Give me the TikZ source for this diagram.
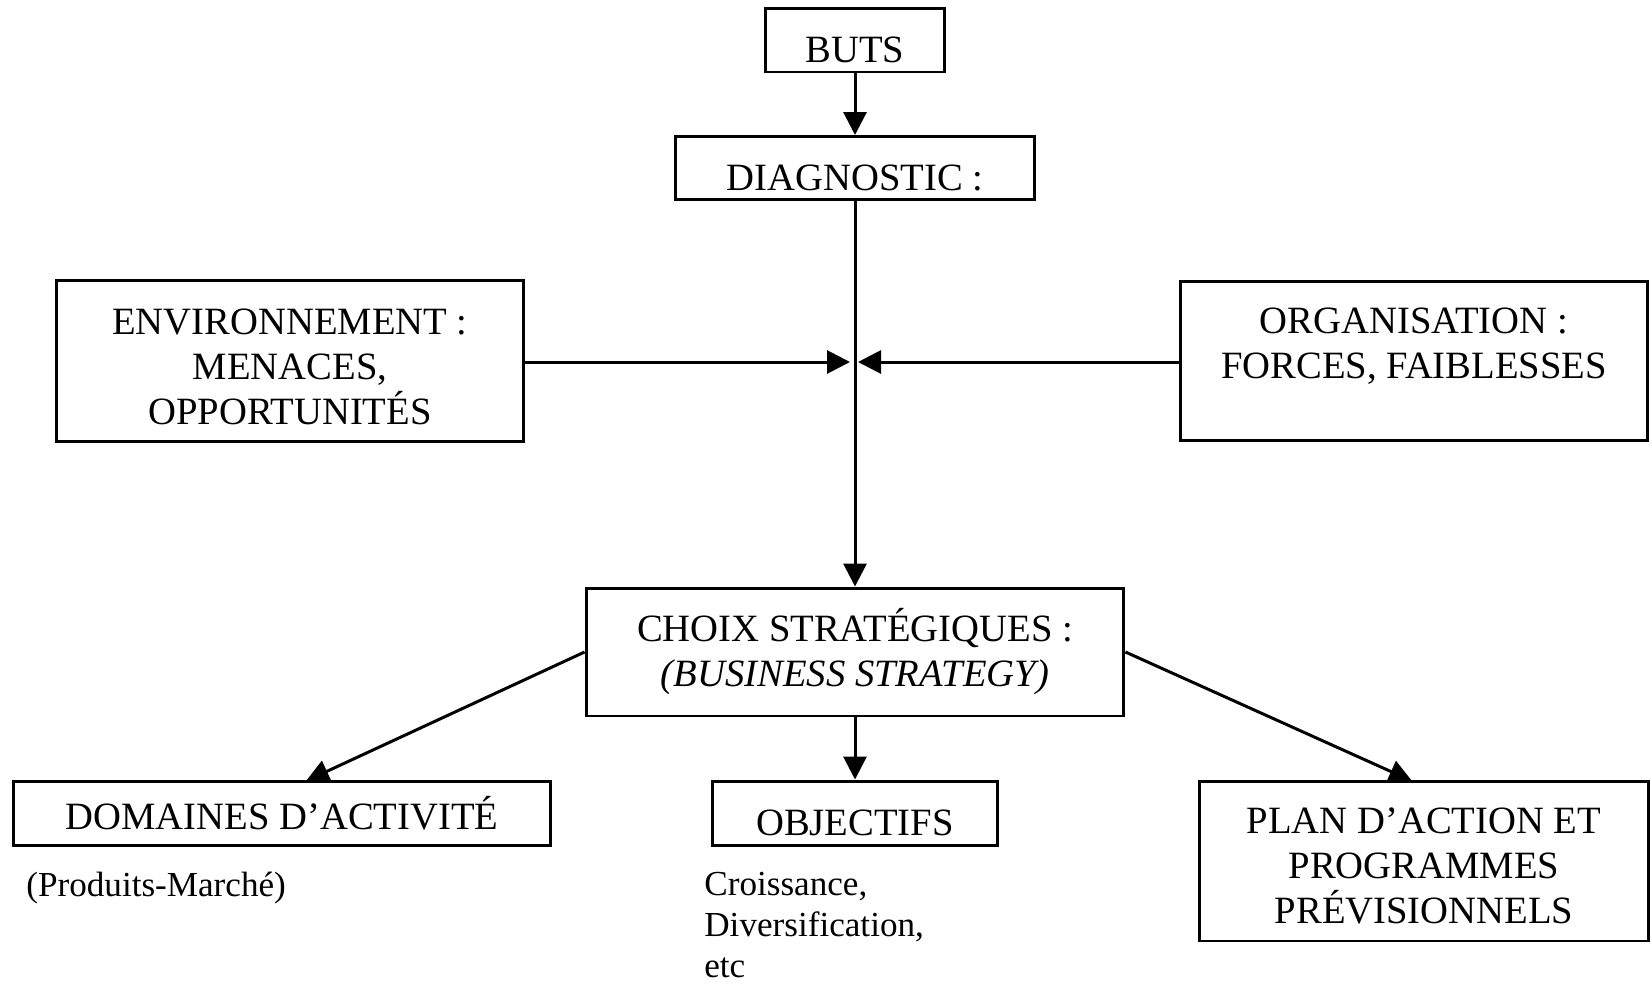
\documentclass[tikz,border=0pt]{standalone}
\usepackage{fontspec}
\setmainfont{Liberation Serif}
\usetikzlibrary{arrows.meta,calc}

\begin{document}
\begin{tikzpicture}
	[
	 x = 0.02cm,
	 y = -0.02cm,
	 every node/.style = {align=center,
	                      inner sep = 0pt},
	 Box/.style = {shape=rectangle,
	               draw,
	               line width = 1.7pt,
	               font=\fontsize{22}{25.6}\selectfont},
	 Low/.style = {text height = 25.5pt,
	               text depth = 0pt},
	 Note/.style = {align=left,
	                font=\fontsize{20}{23.3}\selectfont},
	 Arr/.style = {line width = 1.7pt,
	               -{Triangle[length=0.46cm,width=0.46cm]}}
	]

	\newcommand{\EnvT}{\mbox{}\\[-4pt]ENVIRONNEMENT :\\ MENACES,\\ OPPORTUNITÉS}
	\newcommand{\OrgT}{ORGANISATION :\\ FORCES, FAIBLESSES\\[-5pt]\mbox{}}
	\newcommand{\ChoixT}{CHOIX STRATÉGIQUES :\\ \textit{(BUSINESS STRATEGY)}}
	\newcommand{\PlanT}{\mbox{}\\[-5pt]PLAN D’ACTION ET\\ PROGRAMMES\\ PRÉVISIONNELS}

	\useasboundingbox (0,0) rectangle (1652,984);

	\node [Box, Low, minimum width=3.58cm, minimum height=1.28cm] (buts)  at (855,40)   {BUTS};
	\node [Box, Low, minimum width=7.18cm, minimum height=1.26cm] (diag)  at (855,168)  {DIAGNOSTIC :};
	\node [Box, minimum width=9.34cm, minimum height=3.22cm]      (env)   at (290,361)  {\EnvT};
	\node [Box, minimum width=9.34cm, minimum height=3.2cm]       (org)   at (1414,361) {\OrgT};
	\node [Box, minimum width=10.76cm, minimum height=2.56cm]     (choix) at (855,652)  {\ChoixT};
	\node [Box, minimum width=10.76cm, minimum height=1.28cm]     (dom)   at (282,813)  {DOMAINES D’ACTIVITÉ};
	\node [Box, Low, minimum width=5.72cm, minimum height=1.28cm] (obj)   at (855,813)  {OBJECTIFS};
	\node [Box, minimum width=9.0cm, minimum height=3.2cm]        (plan)  at (1424,861) {\PlanT};

	\node [Note, anchor=west]       (pm) at (26,888)  {(Produits-Marché)};
	\node [Note, anchor=north west] (cr) at (704,872) {Croissance,\\ Diversification,\\ etc};

	\coordinate (jl)   at (850,362);
	\coordinate (jr)   at (858,362);
	\coordinate (dtip) at (306,781);
	\coordinate (ptip) at (1412,781);

	\draw [Arr] (buts)  -- (diag);
	\draw [Arr] (diag)  -- (choix);
	\draw [Arr] (env.east |- jl) -- (jl);
	\draw [Arr] (org.west |- jr) -- (jr);
	\draw [Arr] (choix.west) -- (dtip);
	\draw [Arr] (choix) -- (obj);
	\draw [Arr] (choix.east) -- (ptip);
\end{tikzpicture}
\end{document}
